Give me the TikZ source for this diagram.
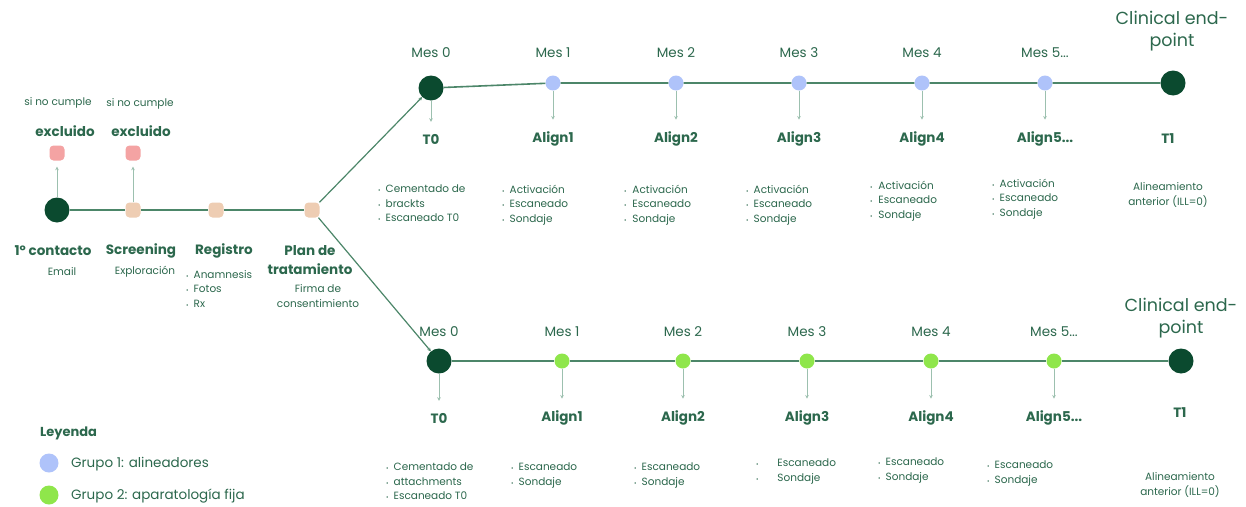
\documentclass[tikz,border=0pt]{standalone}
\usepackage{fontspec}
\setmainfont{Poppins}
\usetikzlibrary{arrows.meta}
\definecolor{dkgreen}{HTML}{0B4A2F}
\definecolor{txtgreen}{HTML}{2C684D}
\definecolor{linegreen}{HTML}{4C8669}
\definecolor{palegreen}{HTML}{9CC0AF}
\definecolor{pinkdot}{HTML}{F4A3A3}
\definecolor{beigedot}{HTML}{EECDB3}
\definecolor{bluedot}{HTML}{AFC3FA}
\definecolor{limedot}{HTML}{8FE64B}
\newcommand{\bul}[1][5pt]{{\fontsize{6}{6}\selectfont\textbullet}\hspace{#1}}

\begin{document}
\begin{tikzpicture}[x=1pt,y=-1pt,>={Stealth[length=3.5pt,width=3.5pt]},
  every node/.style={text=txtgreen,inner sep=0pt},
  bigdot/.style={circle,fill=dkgreen,minimum size=25pt},
  smalldot/.style={circle,minimum size=15pt},
  sqdot/.style={rectangle,rounded corners=4pt,minimum size=15pt},
  mes/.style={font=\fontsize{13.5}{16}\selectfont},
  hito/.style={font=\bfseries\fontsize{13.5}{19}\selectfont},
  nota/.style={font=\fontsize{10.5}{14.5}\selectfont},
  fin/.style={font=\fontsize{17.5}{22}\selectfont,align=center},
  lista/.style={font=\fontsize{10.5}{14.5}\selectfont,align=left,anchor=north west},
  tline/.style={draw=linegreen,line width=1.6pt},
  diag/.style={draw=linegreen,line width=1.2pt},
  flecha/.style={draw=palegreen,line width=1pt,->}]
\fill [white] (0,0) rectangle (1246,506);
\useasboundingbox (0,0) rectangle (1246,506);

% tramo inicial
\node (contacto) at (57,210)  [bigdot] {};
\node (screen)   at (133,210) [sqdot,fill=beigedot] {};
\node (registro) at (216,210) [sqdot,fill=beigedot] {};
\node (plan)     at (312,210) [sqdot,fill=beigedot] {};
\node (excl1)    at (57,153)  [sqdot,fill=pinkdot] {};
\node (excl2)    at (133,153) [sqdot,fill=pinkdot] {};
\node (exclt1)   at (65,131)  [hito] {excluido};
\node (exclt2)   at (141,131) [hito] {excluido};
\node (nocum1)   at (58,103)  [nota] {si no cumple};
\node (nocum2)   at (140,104) [nota] {si no cumple};
\node (contactot) at (53,251)  [hito] {1º contacto};
\node (emailt)    at (62,272)  [nota] {Email};
\node (screent)   at (141,251) [hito] {Screening};
\node (explt)     at (145,272) [nota] {Exploración};
\node (registrot) at (224,251) [hito] {Registro};
\node (registrol) at (186,270) [lista] {\bul Anamnesis\\\bul Fotos\\\bul Rx};
\node (plant)     at (310,260) [hito,align=center] {Plan de\\tratamiento};
\node (firmat)    at (318,296) [nota,align=center] {Firma de\\consentimiento};
\draw [tline] (contacto) -- (screen) -- (registro) -- (plan);
\draw [flecha,shorten >=6pt] (contacto) -- (excl1);
\draw [flecha,shorten >=6pt] (screen) -- (excl2);

% grupo 1: alineadores
\node (mA0) at (431,53)  [mes] {Mes 0};
\node (mA1) at (553,53)  [mes] {Mes 1};
\node (mA2) at (676,53)  [mes] {Mes 2};
\node (mA3) at (799,53)  [mes] {Mes 3};
\node (mA4) at (922,53)  [mes] {Mes 4};
\node (mA5) at (1045,53) [mes] {Mes 5...};
\node (ceA) at (1172,31) [fin] {Clinical end-\\point};
\node (tA0) at (431,88)  [bigdot] {};
\node (tA1) at (553,83)  [smalldot,fill=bluedot] {};
\node (tA2) at (676,83)  [smalldot,fill=bluedot] {};
\node (tA3) at (799,83)  [smalldot,fill=bluedot] {};
\node (tA4) at (922,83)  [smalldot,fill=bluedot] {};
\node (tA5) at (1045,83) [smalldot,fill=bluedot] {};
\node (tA6) at (1173,83) [bigdot] {};
\node (aA0) at (431,139)  [hito] {T0};
\node (aA1) at (553,139)  [hito] {Align1};
\node (aA2) at (676,139)  [hito] {Align2};
\node (aA3) at (799,139)  [hito] {Align3};
\node (aA4) at (922,139)  [hito] {Align4};
\node (aA5) at (1045,139) [hito] {Align5...};
\node (aA6) at (1168,139) [hito] {T1};
\node (lA0) at (378,185)  [lista] {\bul Cementado de\\\bul brackts\\\bul Escaneado T0};
\node (lA1) at (502,185)  [lista] {\bul Activación\\\bul Escaneado\\\bul Sondaje};
\node (lA2) at (624,185)  [lista] {\bul[3pt] Activación\\\bul[3pt] Escaneado\\\bul[3pt] Sondaje};
\node (lA3) at (746,185)  [lista] {\bul Activación\\\bul Escaneado\\\bul Sondaje};
\node (lA4) at (870,181)  [lista] {\bul[3pt] Activación\\\bul[3pt] Escaneado\\\bul[3pt] Sondaje};
\node (lA5) at (992,179)  [lista] {\bul Activación\\\bul Escaneado\\\bul Sondaje};
\node (lA6) at (1168,195) [nota,align=center] {Alineamiento\\anterior (ILL=0)};
\draw [tline] (tA0) -- (tA1) -- (tA2) -- (tA3) -- (tA4) -- (tA5) -- (tA6);
\draw [flecha,shorten >=12pt] (tA0) -- (aA0);
\draw [flecha,shorten >=12pt] (tA1) -- (aA1);
\draw [flecha,shorten >=12pt] (tA2) -- (aA2);
\draw [flecha,shorten >=12pt] (tA3) -- (aA3);
\draw [flecha,shorten >=12pt] (tA4) -- (aA4);
\draw [flecha,shorten >=12pt] (tA5) -- (aA5);

% grupo 2: aparatologia fija
\node (mB0) at (439,332)  [mes] {Mes 0};
\node (mB1) at (562,332)  [mes] {Mes 1};
\node (mB2) at (683,332)  [mes] {Mes 2};
\node (mB3) at (807,332)  [mes] {Mes 3};
\node (mB4) at (931,332)  [mes] {Mes 4};
\node (mB5) at (1054,332) [mes] {Mes 5...};
\node (ceB) at (1181,318) [fin] {Clinical end-\\point};
\node (tB0) at (439,361)  [bigdot] {};
\node (tB1) at (562,361)  [smalldot,fill=limedot] {};
\node (tB2) at (683,361)  [smalldot,fill=limedot] {};
\node (tB3) at (807,361)  [smalldot,fill=limedot] {};
\node (tB4) at (931,361)  [smalldot,fill=limedot] {};
\node (tB5) at (1054,361) [smalldot,fill=limedot] {};
\node (tB6) at (1181,361) [bigdot] {};
\node (aB0) at (439,418)  [hito] {T0};
\node (aB1) at (562,418)  [hito] {Align1};
\node (aB2) at (683,418)  [hito] {Align2};
\node (aB3) at (807,418)  [hito] {Align3};
\node (aB4) at (931,418)  [hito] {Align4};
\node (aB5) at (1054,418) [hito] {Align5...};
\node (aB6) at (1180,413) [hito] {T1};
\node (lB0) at (386,463)  [lista] {\bul Cementado de\\\bul attachments\\\bul Escaneado T0};
\node (lB1) at (511,463)  [lista] {\bul Escaneado\\\bul Sondaje};
\node (lB2) at (634,463)  [lista] {\bul Escaneado\\\bul Sondaje};
\node (lB3) at (756,459)  [lista] {\bul[16pt] Escaneado\\\bul[16pt] Sondaje};
\node (lB4) at (878,458)  [lista] {\bul Escaneado\\\bul Sondaje};
\node (lB5) at (987,461)  [lista] {\bul Escaneado\\\bul Sondaje};
\node (lB6) at (1180,485) [nota,align=center] {Alineamiento\\anterior (ILL=0)};
\draw [tline] (tB0) -- (tB1) -- (tB2) -- (tB3) -- (tB4) -- (tB5) -- (tB6);
\draw [flecha,shorten >=12pt] (tB0) -- (aB0);
\draw [flecha,shorten >=12pt] (tB1) -- (aB1);
\draw [flecha,shorten >=12pt] (tB2) -- (aB2);
\draw [flecha,shorten >=12pt] (tB3) -- (aB3);
\draw [flecha,shorten >=12pt] (tB4) -- (aB4);
\draw [flecha,shorten >=12pt] (tB5) -- (aB5);

% ramas
\draw [diag,->] (plan) -- (tA0);
\draw [diag,->] (plan) -- (tB0);

% leyenda
\node (leyenda) at (40,433) [hito,anchor=west,font=\bfseries\fontsize{13}{15}\selectfont] {Leyenda};
\node (g1dot) at (49,463) [circle,fill=bluedot,minimum size=19pt] {};
\node (g2dot) at (49,495) [circle,fill=limedot,minimum size=19pt] {};
\node (g1txt) at (71,464) [mes,anchor=west] {Grupo 1: alineadores};
\node (g2txt) at (71,496) [mes,anchor=west] {Grupo 2: aparatología fija};
\end{tikzpicture}
\end{document}
